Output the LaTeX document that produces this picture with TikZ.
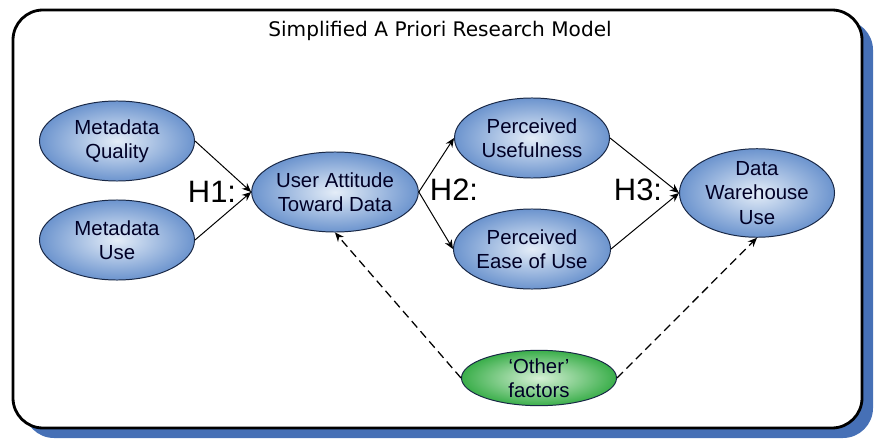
\documentclass[tikz,border=0pt]{standalone}
\usepackage{fontspec}
\setmainfont{Liberation Sans}
\newfontfamily\titlefont{DejaVu Sans}
\usetikzlibrary{arrows.meta,shapes.geometric}

\definecolor{ellblue}{RGB}{108,148,206}
\definecolor{ellpale}{RGB}{228,237,248}
\definecolor{ellgreen}{RGB}{58,174,74}
\definecolor{ellpalegreen}{RGB}{214,240,214}
\definecolor{edgenavy}{RGB}{25,40,70}
\definecolor{shadowblue}{RGB}{70,112,182}

\tikzset{
  latent/.style={ellipse,draw=edgenavy,line width=0.7pt,inner color=ellpale,outer color=ellblue,
    minimum width=3.875cm,minimum height=2cm,inner sep=0pt,align=center,text=black!85!blue,
    font=\fontsize{14.5}{17.2}\selectfont},
  other/.style={latent,inner color=ellpalegreen,outer color=ellgreen,minimum height=1.375cm},
  hyp/.style={font=\fontsize{22}{24}\selectfont},
  link/.style={-{Stealth[length=6.5pt,width=5.5pt]},line width=0.7pt},
  dlink/.style={link,line width=0.9pt,dash pattern=on 6pt off 3.5pt}
}

\begin{document}
\begin{tikzpicture}[x=0.025cm,y=-0.025cm]
      \useasboundingbox (0,0) rectangle (879,439);
      \fill[shadowblue,rounded corners=0.75cm] (24,20) rectangle (873,438);
      \draw[fill=white,line width=2pt,rounded corners=0.75cm] (13,10) rectangle (862,428);

      \node[font=\titlefont\fontsize{14.3}{16}\selectfont,anchor=base] (title) at (440,37) {Simplified A Priori Research Model};

      \node[latent] (1) at (117,141) {Metadata\\Quality};
      \node[latent] (2) at (117,240) {Metadata\\Use};
      \node[latent] (3) at (335,192) {User Attitude\\Toward Data};
      \node[latent] (4) at (532,138) {Perceived\\Usefulness};
      \node[latent] (5) at (532,249) {Perceived\\Ease of Use};
      \node[latent] (6) at (757,193) {Data\\Warehouse\\Use};
      \node[other] (7) at (539,378) {`Other'\\factors};

      \node[hyp] (h1) at (212,192) {H1:};
      \node[hyp] (h2) at (454,190) {H2:};
      \node[hyp] (h3) at (638,190) {H3:};

      \draw[link] (1.east) -- (3.west);
      \draw[link] (2.east) -- (3.west);
      \draw[link] (3.east) -- (4.west);
      \draw[link] (3.east) -- (5.west);
      \draw[link] (4.east) -- (6.west);
      \draw[link] (5.east) -- (6.west);

      \draw[dlink] (7.west) -- (3.south);
      \draw[dlink] (7.east) -- (6.south);
    \end{tikzpicture}
\end{document}
